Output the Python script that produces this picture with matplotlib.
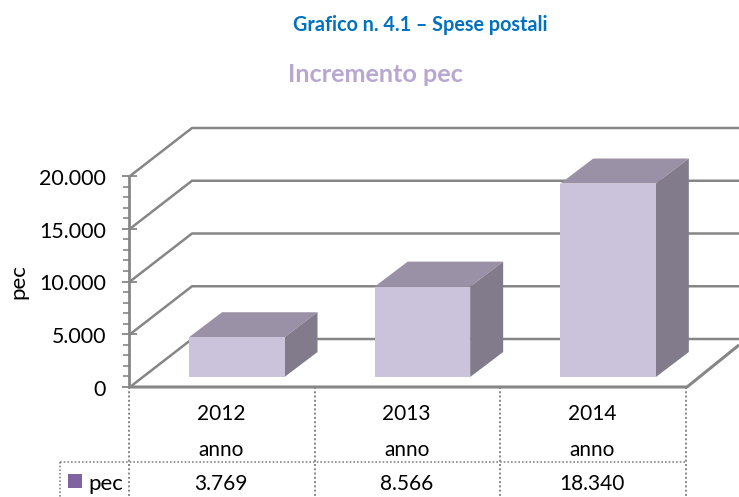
import matplotlib
matplotlib.use('Agg')
import matplotlib.pyplot as plt
from matplotlib.patches import Polygon, Rectangle

anni = ['2012', '2013', '2014']
pec = [3769, 8566, 18340]
pec_labels = ['3.769', '8.566', '18.340']
grid_values = [0, 5000, 10000, 15000, 20000]
grid_labels = ['0', '5.000', '10.000', '15.000', '20.000']
minor_values = [1000, 2000, 3000, 4000, 6000, 7000, 8000, 9000, 11000, 12000, 13000, 14000,
                16000, 17000, 18000, 19000]

plt.rcParams['font.family'] = ['Lato', 'DejaVu Sans']

W, H = 739, 497
x0, x1 = 130, 687
y0, ytop = 387, 176
GRAY = '#868686'

fig = plt.figure(figsize=(W / 100, H / 100), dpi=100)
ax = fig.add_axes([x0 / W, 1 - y0 / H, (x1 - x0) / W, (y0 - ytop) / H])
ax.set_xlim(0, 3)
ax.set_ylim(0, 20000)
ax.axis('off')

# pixels to data units
px = 3 / (x1 - x0)
py = 20000 / (y0 - ytop)


def poly(points, color, z):
    ax.add_patch(Polygon(points, closed=True, fc=color, ec='none', zorder=z, clip_on=False))


def line(xs, ys, z=1, lw=2.0, color=GRAY, ls='-'):
    ax.plot(xs, ys, color=color, lw=lw, ls=ls, zorder=z, clip_on=False, solid_capstyle='butt')


back_x = 62 * px
back_y = 48 * py

# gridlines, side wall and back wall
for v in grid_values:
    line([0, back_x, (W - x0) * px], [v, v + back_y, v + back_y], lw=1.8)
# floor
line([-1 * px, 3, 3 + 52 * px], [0, 0, 0 + 42 * py], z=2, lw=2.2)

# y axis with ticks
line([-1 * px, -1 * px], [0, 20000], z=3, lw=2.0)
for v in grid_values:
    line([-8 * px, 7 * px], [v, v], z=3, lw=1.3)
    ax.text(-24 * px, v - 3 * py, grid_labels[grid_values.index(v)], ha='right', va='center',
            fontsize=15.4, color='black', clip_on=False)
for v in minor_values:
    line([-7 * px, -1 * px], [v, v], z=3, lw=1.2)

# bars
bar_w = 95.5 * px
depth_x = 33 * px
depth_y = 25 * py
base = 10 * py
for i in range(3):
    left = i + 59 * px
    right = left + bar_w
    bottom = base
    top = base + pec[i]
    ax.add_patch(Rectangle((left, bottom), bar_w, pec[i], fc='#CBC2DC', ec='none', zorder=6))
    poly([(left, top), (right, top), (right + depth_x, top + depth_y), (left + depth_x, top + depth_y)],
         '#9B91A6', 5)
    poly([(right, bottom), (right, top), (right + depth_x, top + depth_y), (right + depth_x, bottom + depth_y)],
         '#827B8B', 5)

# data table
dot = (0, (1, 1.2))
for i in range(4):
    line([i - 1 * px, i - 1 * px], [0, -110 * py], z=2, lw=1.4, ls=dot)
line([-70 * px, 3], [-75 * py, -75 * py], z=2, lw=1.2, ls=dot)
line([-70 * px, -70 * px], [-75 * py, -110 * py], z=2, lw=1.2, ls=dot)
for i in range(3):
    ax.text(i + 0.49, -27 * py, anni[i], ha='center', va='center', fontsize=15, clip_on=False)
    ax.text(i + 0.49, -63 * py, 'anno', ha='center', va='center', fontsize=15, clip_on=False)
    ax.text(i + 0.49, -97 * py, pec_labels[i], ha='center', va='center', fontsize=15, clip_on=False)
ax.add_patch(Rectangle((-62 * px, -101 * py), 14 * px, 14 * py, fc='#8064A2', ec='none', clip_on=False))
ax.text(-42 * px, -97 * py, 'pec', ha='left', va='center', fontsize=16, clip_on=False)

# titles and axis label
fig.text(420 / W, 1 - 25 / H, 'Grafico n. 4.1 – Spese postali', ha='center', va='center',
         fontsize=14.2, fontweight='bold', color='#0070C0')
fig.text(375 / W, 1 - 75 / H, 'Incremento pec', ha='center', va='center',
         fontsize=18.2, fontweight='bold', color='#B8A8D0')
fig.text(18 / W, 1 - 282 / H, 'pec', rotation=90, ha='center', va='center', fontsize=16)

fig.savefig('out.png', dpi=100)
